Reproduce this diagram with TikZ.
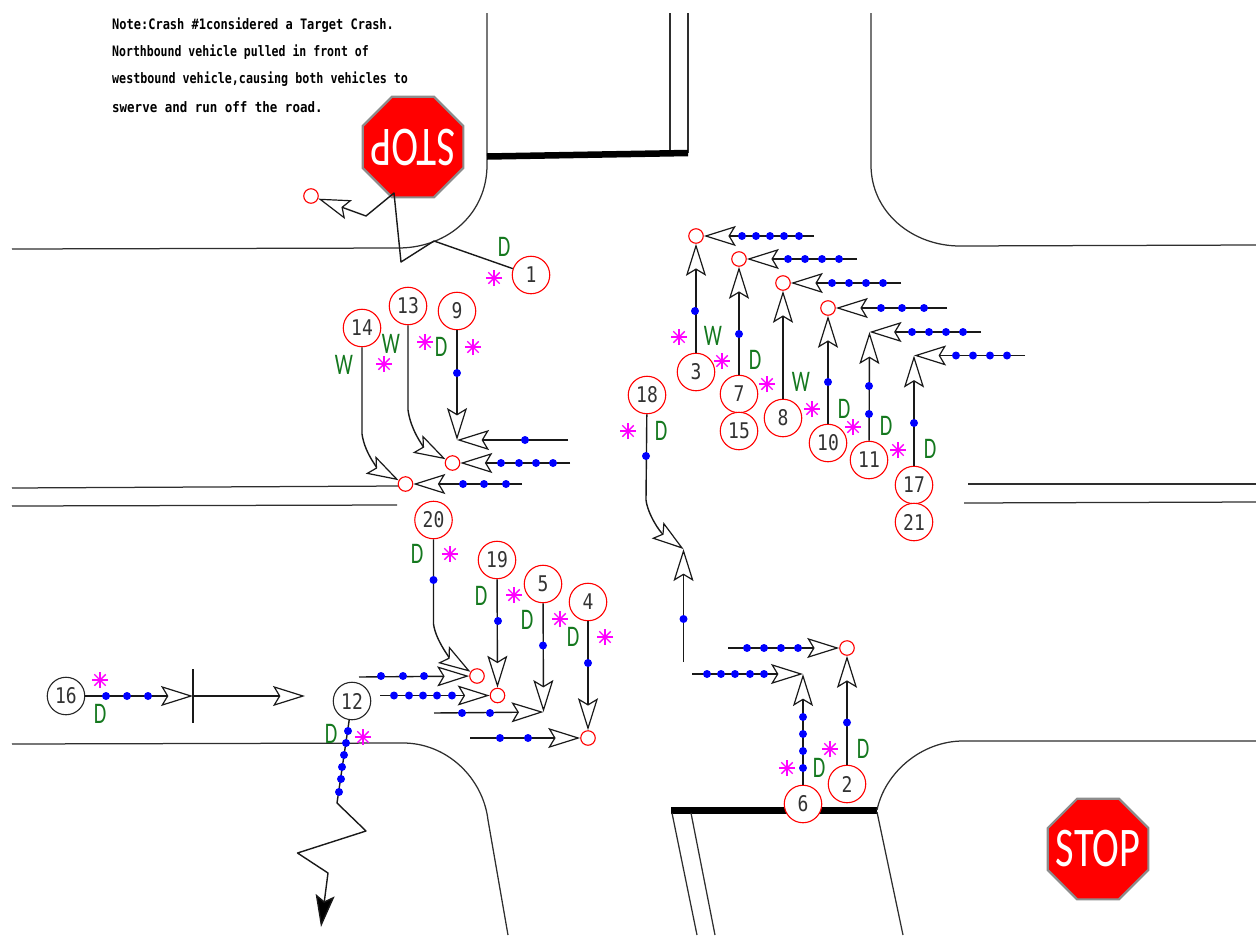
\documentclass[tikz,border=0pt]{standalone}
\usepackage{fontspec}
\usepackage{graphicx}
\usetikzlibrary{arrows.meta,shapes.geometric}
\setmainfont{Liberation Sans}
\newfontfamily\cadfont{DejaVu Sans Mono}
\newfontfamily\signfont{Carlito}
\definecolor{signred}{RGB}{255,0,0}
\definecolor{labgreen}{RGB}{20,120,30}
\definecolor{dotblue}{RGB}{0,0,255}
\definecolor{starpink}{RGB}{255,0,255}
\tikzset{
  road/.style={black!82,line width=1.25pt},
  bar/.style={black,line width=6.5pt},
  veh/.style={black!90,line width=1.4pt,line join=round,
    -{Stealth[fill=white,length=32pt,width=20pt,inset=6pt,line width=1.2pt]}},
  plainveh/.style={black!90,line width=1.4pt,line join=round},
  num/.style={circle,draw=red,fill=white,line width=1.1pt,minimum size=37.5pt,inner sep=0pt,
     text=black!80,font=\cadfont\fontsize{18}{18}\selectfont},
  blk/.style={num,draw=black!85},
  endc/.style={circle,draw=red,fill=white,line width=1.1pt,minimum size=14.5pt,inner sep=0pt},
  lbl/.style={text=labgreen,inner sep=0pt,font=\signfont\fontsize{26}{26}\selectfont},
  note/.style={anchor=west,inner sep=0pt,font=\cadfont\bfseries\fontsize{12}{12}\selectfont},
  sign/.style={regular polygon,regular polygon sides=8,
     draw=black!45,fill=signred,line width=2.2pt,minimum size=109pt,inner sep=0pt},
  signtext/.style={inner sep=0pt,text=white,font=\signfont\fontsize{56}{56}\selectfont},
  star/.style={starpink,line width=1.4pt}
}
\newcommand{\tn}[1]{\scalebox{1}[1.2]{#1}}
\begin{document}
\begin{tikzpicture}[x=1pt,y=-1pt]
\useasboundingbox (0,0) rectangle (1256,935);
% roads
\draw[road] (12,249) -- (400,248) .. controls (450,247) and (487,212) .. (487,165) -- (487,13);
\draw[road] (670,13) -- (670,150);
\draw[road] (688,13) -- (688,153);
\draw[bar] (487,156.5) -- (688,153);
\draw[road] (871,13) -- (871,165) .. controls (871,212) and (912,246) .. (960,246) -- (1256,245);
\draw[road] (968,484) -- (1256,484);
\draw[road] (964,503) -- (1256,502);
\draw[road] (12,488) -- (399,486);
\draw[road] (12,506) -- (397,505);
\draw[road] (12,744) -- (403,743) .. controls (447,743) and (483,778) .. (488,820) -- (508,935);
\draw[bar] (671,810.5) -- (877,810.5);
\draw[road] (672,813) -- (697,935);
\draw[road] (691,813) -- (715,935);
\draw[road] (877,812) -- (903,935);
\draw[road] (877,810) .. controls (885,772) and (922,741) .. (963,741) -- (1256,741);
% stop signs
\node[sign] (stopA) at (413,147) {};
\node[signtext] (stopAt) at (413,147) {\rotatebox{180}{\scalebox{0.72}[1]{STOP}}};
\node[sign] (stopB) at (1098,849) {};
\node[signtext] (stopBt) at (1098,849) {\scalebox{0.72}[1]{STOP}};
% note
\node[note] (noteA) at (112,25) {\tn{Note:Crash \#1considered a Target Crash.}};
\node[note] (noteB) at (112,52) {\scalebox{0.96}[1.2]{Northbound vehicle pulled in front of}};
\node[note] (noteC) at (112,79) {\scalebox{0.975}[1.2]{westbound vehicle,causing both vehicles to}};
\node[note] (noteD) at (112,107) {\scalebox{1.04}[1.2]{swerve and run off the road.}};
% numbered circles
\foreach \n/\x/\y in {1/531/275,14/362/328,13/408/306,9/457/311,18/647/395,3/696/372,7/739/394,15/739/431,
  8/783/418,10/828/443,11/869/460,17/914/485,21/914/522,20/433.5/520,19/497/560,5/543/584,4/588/602,6/803/804,2/847/784}
  \node[num] (n\n) at (\x,\y) {\tn{\n}};
\node[blk] (n12) at (352,701) {\tn{12}};
\node[blk] (n16) at (66,696) {\tn{16}};
% small end circles
\node[endc] (eA) at (311,196) {};
\node[endc] (e3) at (696,236) {};
\node[endc] (e7) at (739,259) {};
\node[endc] (e8) at (783,283) {};
\node[endc] (e10) at (828,308) {};
\node[endc] (e14) at (405.5,484) {};
\node[endc] (e13) at (452.5,463) {};
\node[endc] (e20) at (477,676) {};
\node[endc] (e19) at (497.5,695.5) {};
\node[endc] (e4) at (588,738) {};
\node[endc] (e2) at (847,648) {};
% free ends
\coordinate (t9) at (457,440);
\coordinate (t11) at (869.5,332);
\coordinate (t17) at (914,355.5);
\coordinate (t5) at (543.5,712);
\coordinate (t6) at (803,674);
\coordinate (t18) at (683.5,549);
\coordinate (s18) at (683.5,662);
\coordinate (bar16) at (193,696);
\coordinate (t16) at (305,696);
\coordinate (t12) at (321,927);
\coordinate (w1) at (814,236);
\coordinate (w2) at (857,259);
\coordinate (w3) at (901,283);
\coordinate (w4) at (947,308);
\coordinate (w5) at (981,332);
\coordinate (w6) at (1025,355.5);
\coordinate (w7) at (568,440);
\coordinate (w8) at (570,463);
\coordinate (w9) at (522,484);
\coordinate (o1) at (359,677);
\coordinate (o2) at (380,695.5);
\coordinate (o3) at (434,713);
\coordinate (o4) at (470,738);
\coordinate (o5) at (728,648);
\coordinate (o6) at (692,674);
% crash 1
\draw[veh] (n1) -- (434,241) -- (401,262) -- (394,193) -- (366,216) -- (eA);
% vertical approaches
\draw[veh] (n3) -- (e3);
\draw[veh] (n7) -- (e7);
\draw[veh] (n8) -- (e8);
\draw[veh] (n10) -- (e10);
\draw[veh] (n11) -- (t11);
\draw[veh] (n17) -- (t17);
\draw[veh] (n9) -- (t9);
\draw[veh] (n13) -- (408,410) .. controls (411,432) and (425,448) .. (e13);
\draw[veh] (n14) -- (362,434) .. controls (365,455) and (380,470) .. (e14);
\draw[veh] (n18) -- (646,500) .. controls (648,515) and (660,532) .. (t18);
\draw[veh] (s18) -- (t18);
\draw[veh] (n20) -- (433.5,624) .. controls (436,642) and (452,660) .. (e20);
\draw[veh] (n19) -- (e19);
\draw[veh] (n5) -- (t5);
\draw[veh] (n4) -- (e4);
\draw[veh] (n2) -- (e2);
\draw[veh] (n6) -- (t6);
% horizontal approaches
\draw[veh] (w1) -- (e3);
\draw[veh] (w2) -- (e7);
\draw[veh] (w3) -- (e8);
\draw[veh] (w4) -- (e10);
\draw[veh] (w5) -- (t11);
\draw[veh] (w6) -- (t17);
\draw[veh] (w7) -- (t9);
\draw[veh] (w8) -- (e13);
\draw[veh] (w9) -- (e14);
\draw[veh] (o1) -- (e20);
\draw[veh] (o2) -- (e19);
\draw[veh] (o3) -- (t5);
\draw[veh] (o4) -- (e4);
\draw[veh] (o5) -- (e2);
\draw[veh] (o6) -- (t6);
% crash 16
\draw[veh] (n16) -- (bar16);
\draw[plainveh] (193,669) -- (193,723);
\draw[veh] (bar16) -- (t16);
% crash 12
\draw[plainveh,-{Stealth[fill=black,length=32pt,width=19pt,inset=6pt]}]
  (n12) -- (337,803) -- (366,831) -- (297.5,853) -- (328,873) -- (t12);
% dots
\foreach \x/\y in {742/236,756/236,770/236,784/236,799/236,
  788/259,805/259,822/259,839/259,
  832/283,849/283,866/283,883/283,
  881/308,902/308,924/308,
  912/332,929/332,946/332,963/332,
  956/355.5,973/355.5,990/355.5,1007/355.5,
  695/311,739/334,828/382,869/386,869/414,914/423,646/456,683.5/619,
  457/373,525/440,501/463,519/463,536/463,553/463,463/484,484/484,506/484,
  433.5/580,498/621,543/645.5,588/663,
  381/676,403/676,424/676,394/695.5,409/695.5,423/695.5,437/695.5,452/695.5,
  462/713,490/713,500/738,528/738,
  106/696,127/696,148/696,
  348/731,346/743,344/755,342/767,341/779,339/792,
  847/722.5,803/717,803/734,803/751,803/768,
  747/648,764/648,781/648,798/648,707/674,721/674,735/674,750/674,764/674}
  \fill[dotblue] (\x,\y) circle (4);
% stars
\foreach \x/\y in {494/278,384/364,425/342,473/347,679/337,722/361,767/384,812/409,853/427,898/450,628/431,
  450/554,514/595,560/619,605/637,100/680,363/737,787/768,830/749}
  \foreach \a in {0,45,90,135}
    \draw[star] (\x,\y) ++(\a:8) -- ++(\a+180:16);
% labels
\foreach \x/\y/\t [count=\i] in {504/247/D,441/347/D,391/344/W,344/365/W,713/336/W,755/360/D,801/382/W,844/409/D,886/426/D,930/449/D,661/431/D,
  417/554/D,481/596/D,527/620/D,573/637/D,100/714/D,331/733.5/D,819/768/D,863/749/D}
  \node[lbl] (lab\i) at (\x,\y) {\scalebox{0.78}[1.15]{\t}};
\end{tikzpicture}
\end{document}
